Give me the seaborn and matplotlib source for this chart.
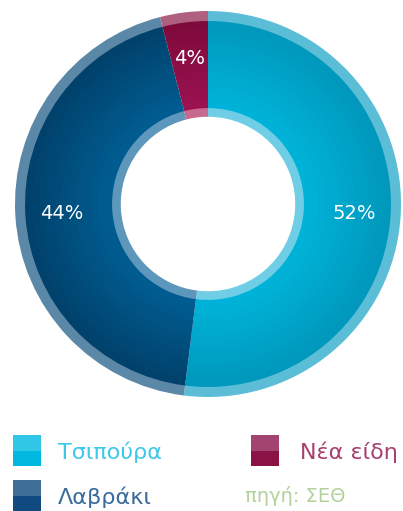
import matplotlib
matplotlib.use("Agg")
import numpy as np
import matplotlib.pyplot as plt
from matplotlib.colors import to_rgb
from matplotlib.patches import Rectangle
import seaborn as sns

# data
species = ["Τσιπούρα", "Λαβράκι", "Νέα είδη"]
shares = [52, 44, 4]
source_text = "πηγή: ΣΕΘ"

# ring colours (inner shade -> outer shade)
inner_shade = ["#00B2D8", "#005C90", "#9A1250"]
outer_shade = ["#0098BC", "#00426C", "#7E0A3C"]
rim_colors = ["#5CBDD6", "#5C88A8", "#B0607F"]
inner_rim_colors = ["#70CDE6", "#5E97BC", "#C86A90"]
legend_top = ["#30C6E6", "#3F6E98", "#A34470"]
legend_bot = ["#00B8E0", "#114A80", "#8B1245"]
legend_text = ["#3CC8E8", "#3A6A9A", "#A8406E"]

sns.set_theme(style="white")
plt.rcParams["font.family"] = ["DejaVu Sans"]

fig = plt.figure(figsize=(4.03, 5.11), dpi=100)
ax = fig.add_axes([15 / 403, 114 / 511, 386 / 403, 386 / 511])

pie_kw = dict(startangle=90, counterclock=False)

# outer light rim
ax.pie(shares, radius=1.0, colors=rim_colors,
       wedgeprops=dict(width=0.06, linewidth=0), **pie_kw)

# main ring, drawn in bands for a soft radial shading
r_out, r_in = 0.948, 0.497
n_bands = 12
edges = np.linspace(r_out, r_in, n_bands + 1)
for k in range(n_bands):
    t = k / (n_bands - 1)
    cols = [tuple((1 - t) * np.array(to_rgb(o)) + t * np.array(to_rgb(i)))
            for o, i in zip(outer_shade, inner_shade)]
    ax.pie(shares, radius=edges[k], colors=cols,
           wedgeprops=dict(width=edges[k] - edges[k + 1] + 0.004, linewidth=0),
           **pie_kw)

# inner light rim
ax.pie(shares, radius=r_in, colors=inner_rim_colors,
       wedgeprops=dict(width=0.045, linewidth=0), **pie_kw)

# percentage labels
ax.pie(shares, radius=r_out, colors=["none"] * 3,
       autopct="%d%%", pctdistance=0.8,
       textprops=dict(color="white", fontsize=14),
       wedgeprops=dict(width=0.46, linewidth=0, fill=False), **pie_kw)

ax.set_xlim(-1, 1)
ax.set_ylim(-1, 1)
ax.set_aspect("equal")
ax.axis("off")

# legend (manual, two-tone squares)
W, H = 403, 511
legend_pos = [(13, 435), (13, 480), (251, 435)]
for i, (x, y) in enumerate(legend_pos):
    fig.add_artist(Rectangle((x / W, 1 - (y + 16) / H), 28 / W, 16 / H,
                             transform=fig.transFigure, color=legend_top[i], lw=0))
    fig.add_artist(Rectangle((x / W, 1 - (y + 31) / H), 28 / W, 15 / H,
                             transform=fig.transFigure, color=legend_bot[i], lw=0))
    tx = 58 if x < 100 else 300
    fig.text(tx / W, 1 - (y + 17) / H, species[i], color=legend_text[i],
             fontsize=16, va="center", ha="left")

fig.text(245 / W, 1 - 496 / H, source_text, color="#B3D19A",
         fontsize=14, va="center", ha="left")

fig.savefig("out.png", dpi=100)
